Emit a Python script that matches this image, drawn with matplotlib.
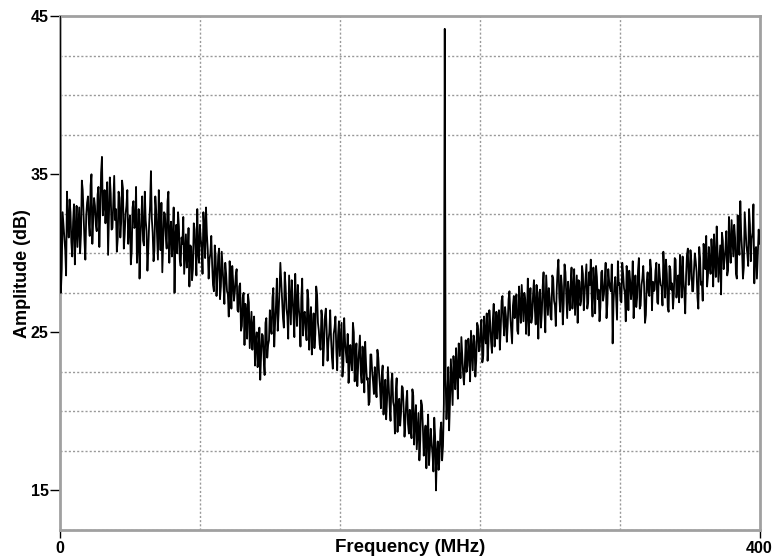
import numpy as np
import matplotlib.pyplot as plt

plt.rcParams['font.family'] = ['Liberation Sans', 'DejaVu Sans']

# Amplitude spectrum, one value per MHz, 0 .. 400 MHz
amp_db = [
    45.0, 29.0, 31.8, 30.2, 33.9, 31.0, 32.6, 29.8, 33.1, 31.5, 30.4, 32.9, 31.2, 34.0, 30.8, 32.4, 33.6, 31.1, 35.0, 32.2,
    33.0, 31.4, 34.2, 32.6, 36.1, 33.1, 31.9, 34.5, 32.3, 33.8, 31.6, 34.9, 32.8, 30.9, 33.5, 32.0, 34.1, 31.2, 33.0, 30.6,
    32.4, 30.1, 33.3, 31.7, 29.4, 32.8, 31.0, 33.6, 30.5, 32.1, 28.9, 31.9, 35.2, 31.3, 30.2, 32.7, 29.6, 31.8, 33.2, 30.7,
    32.5, 30.3, 33.9, 31.4, 29.8, 32.9, 31.1, 30.0, 31.7, 29.2, 30.6, 28.7, 31.2, 29.9, 27.9, 30.4, 29.0, 31.5, 28.6, 30.1,
    31.8, 30.4, 32.6, 29.7, 31.2, 28.4, 30.0, 29.3, 27.6, 29.8, 28.5, 30.3, 27.9, 29.1, 26.8, 28.7, 27.4, 29.5, 26.5, 28.2,
    27.6, 29.0, 26.3, 28.1, 25.4, 27.5, 26.8, 24.6, 26.9, 25.2, 23.9, 26.0, 24.4, 22.8, 25.3, 23.6, 24.8, 22.3, 25.9, 24.2,
    26.4, 24.9, 27.8, 25.6, 28.4, 26.2, 29.4, 27.1, 25.3, 27.9, 26.0, 28.6, 25.5, 27.3, 24.7, 26.8, 28.0, 25.9, 27.2, 24.8,
    26.3, 24.5, 27.1, 25.7, 23.6, 26.2, 24.9, 27.4, 25.1, 23.9, 25.8, 24.3, 26.5, 23.2, 25.0, 24.6, 22.7, 25.3, 23.9, 24.8,
    23.5, 25.6, 22.9, 24.4, 23.1, 21.8, 24.2, 22.6, 25.0, 23.4, 21.6, 23.9, 22.4, 24.1, 21.2, 23.0, 22.1, 20.6, 23.6, 21.9,
    22.8, 20.9, 23.4, 21.5, 22.3, 19.8, 22.0, 20.7, 21.6, 19.4, 22.4, 20.3, 21.2, 18.7, 20.8, 19.9, 21.5, 18.4, 20.6, 19.2,
    20.1, 18.3, 21.0, 19.5, 17.6, 19.9, 18.2, 20.4, 17.2, 19.1, 18.4, 16.6, 18.9, 17.3, 19.6, 15.0, 18.1, 17.0, 19.3, 17.8,
    44.2, 19.5, 22.8, 20.6, 21.9, 23.5, 21.4, 22.7, 24.3, 22.1, 23.6, 21.7, 24.5, 22.9, 23.8, 25.1, 22.6, 24.4, 23.2, 25.4,
    24.0, 25.8, 23.5, 24.9, 26.2, 24.3, 25.6, 23.7, 26.8, 25.0, 24.6, 26.4, 25.2, 27.3, 24.8, 26.0, 25.5, 27.6, 25.1, 26.7,
    25.9, 27.4, 24.9, 26.6, 28.0, 25.7, 27.1, 26.2, 24.8, 27.8, 26.0, 28.3, 25.5, 26.9, 27.5, 25.3, 27.9, 26.4, 28.6, 26.1,
    27.2, 25.8, 28.4, 26.7, 27.6, 29.6, 26.3, 27.9, 26.8, 28.8, 25.9, 27.4, 28.1, 26.5, 29.0, 27.3, 25.6, 28.2, 27.0, 28.7,
    27.5, 29.3, 26.9, 28.0, 27.3, 29.1, 26.2, 28.5, 27.7, 26.6, 28.9, 27.4, 29.4, 26.8, 28.2, 27.6, 24.3, 28.0, 27.1, 29.5,
    28.1, 26.9, 28.7, 27.5, 29.2, 26.4, 28.3, 27.8, 25.9, 28.6, 27.2, 29.7, 26.7, 28.4, 27.9, 26.1, 28.8, 27.3, 29.0, 28.2,
    27.7, 29.4, 26.8, 28.5, 27.9, 30.1, 27.2, 28.7, 26.3, 29.0, 28.1, 27.4, 29.6, 28.0, 26.9, 28.8, 29.8, 27.5, 28.6, 30.3,
    28.4, 29.5, 27.6, 30.0, 28.8, 26.5, 29.7, 28.2, 30.6, 29.0, 27.9, 30.4, 28.7, 29.9, 31.2, 28.5, 30.1, 29.3, 27.4, 30.8,
    29.6, 31.4, 28.9, 30.5, 32.1, 29.8, 31.0, 28.4, 30.7, 33.3, 30.2, 29.1, 31.6, 30.0, 32.8, 29.5, 31.3, 28.1, 30.4, 29.9,
    30.6,
]

# the same trace at the half-MHz points in between (0.5 .. 399.5 MHz)
amp_db_half = [
    27.5, 32.6, 30.9, 28.6, 32.1, 33.4, 30.7, 32.0, 29.3, 33.0, 31.7, 30.0, 34.6, 32.3, 29.6, 33.2, 31.9, 34.3, 30.6, 33.5,
    31.8, 33.7, 30.4, 35.1, 32.4, 34.0, 33.3, 29.9, 34.8, 31.5, 33.2, 32.1, 30.1, 33.9, 31.0, 34.6, 30.3, 32.5, 34.0, 31.7,
    29.3, 32.9, 31.6, 34.2, 30.6, 28.4, 32.2, 30.8, 33.9, 31.4, 30.3, 33.0, 32.2, 29.5, 33.6, 31.2, 34.0, 30.2, 28.8, 32.6,
    31.1, 33.3, 29.4, 32.0, 30.9, 27.5, 31.8, 32.6, 29.6, 31.0, 32.3, 30.0, 29.1, 31.6, 30.5, 28.3, 31.9, 30.2, 32.8, 29.4,
    30.9, 28.7, 31.5, 32.9, 30.2, 29.6, 31.1, 28.0, 30.5, 27.3, 29.9, 27.1, 30.1, 28.0, 29.4, 27.6, 26.0, 28.4, 29.2, 27.0,
    28.6, 26.4, 27.9, 25.1, 27.2, 24.2, 26.1, 27.4, 24.0, 26.3, 25.4, 22.9, 25.0, 23.7, 22.0, 24.9, 23.3, 25.6, 23.4, 24.5,
    25.3, 27.2, 24.1, 26.7, 25.1, 27.6, 28.2, 25.9, 28.8, 26.5, 24.6, 27.0, 28.3, 26.1, 28.7, 25.4, 26.6, 24.1, 28.4, 26.2,
    25.2, 27.7, 23.9, 26.6, 25.0, 24.0, 27.9, 25.6, 24.2, 26.4, 22.9, 26.0, 25.1, 24.4, 26.4, 23.4, 24.9, 26.0, 22.6, 25.7,
    24.5, 22.2, 25.9, 23.7, 24.9, 22.7, 23.3, 25.6, 21.9, 24.3, 22.9, 24.8, 21.8, 23.2, 24.4, 22.0, 20.4, 23.6, 22.5, 21.1,
    21.7, 23.9, 22.3, 20.2, 22.9, 21.1, 19.5, 22.8, 20.3, 21.9, 20.6, 18.6, 22.1, 20.5, 19.1, 21.6, 20.2, 19.4, 21.3, 18.6,
    19.0, 21.4, 17.9, 20.4, 18.7, 16.9, 20.7, 19.0, 18.3, 16.4, 19.8, 17.6, 18.0, 16.2, 18.4, 17.4, 16.3, 18.8, 16.9, 20.5,
    22.0, 20.9, 18.8, 23.3, 20.4, 22.3, 24.0, 20.8, 23.1, 24.7, 22.4, 23.0, 22.5, 24.6, 21.9, 23.9, 24.8, 22.2, 25.6, 23.8,
    25.2, 23.1, 26.0, 24.3, 23.2, 26.4, 24.4, 25.8, 24.1, 26.3, 25.9, 23.9, 27.0, 25.7, 26.6, 24.4, 27.1, 26.0, 24.3, 27.3,
    26.8, 25.1, 27.9, 25.6, 26.8, 27.5, 24.9, 28.4, 26.6, 25.6, 27.4, 26.5, 28.0, 24.6, 27.7, 26.2, 28.8, 25.0, 27.3, 27.8,
    26.0, 28.6, 27.0, 25.4, 28.9, 27.2, 28.6, 25.5, 29.3, 27.4, 28.2, 26.4, 29.1, 27.6, 26.1, 28.6, 28.3, 26.7, 29.2, 26.4,
    28.4, 26.5, 28.8, 29.6, 26.0, 28.0, 29.2, 27.1, 25.7, 28.8, 27.0, 28.3, 25.9, 29.0, 27.8, 29.3, 26.9, 28.5, 25.8, 28.0,
    27.0, 29.4, 27.8, 25.7, 28.4, 28.9, 27.1, 29.5, 27.4, 26.6, 28.9, 26.5, 28.0, 29.2, 25.6, 28.2, 27.5, 29.6, 26.4, 27.6,
    28.9, 26.9, 29.3, 28.0, 26.7, 28.9, 29.6, 26.6, 29.2, 27.7, 26.5, 29.7, 27.2, 28.6, 29.9, 27.2, 28.3, 26.2, 29.9, 28.0,
    30.2, 27.6, 28.9, 29.5, 27.2, 30.4, 28.0, 27.0, 29.9, 31.1, 28.6, 29.3, 30.9, 27.9, 29.6, 31.7, 28.2, 30.5, 31.3, 29.0,
    30.3, 28.6, 32.3, 29.4, 30.9, 31.8, 28.7, 32.4, 29.9, 31.2, 28.4, 32.6, 30.5, 29.2, 31.8, 30.9, 33.1, 30.2, 28.4, 31.5,
]

# merge both into one trace on a 0.5 MHz grid
trace = []
for a, b in zip(amp_db[:-1], amp_db_half):
    trace += [a, b]
trace.append(amp_db[-1])
freq_mhz = np.linspace(0, 400, len(trace))

y_ticks = [15, 25, 35, 45]
x_ticks = [0, 400]

fig = plt.figure(figsize=(7.73, 5.59), dpi=100)
ax = fig.add_axes([0.0776, 0.052, 0.905, 0.919])

ax.plot(freq_mhz, trace, color='black', linewidth=1.3, zorder=3)

ax.set_xlim(0, 400)
ax.set_ylim(12.5, 45)

# dotted grid every 80 MHz / 2.5 dB
ax.set_xticks(np.arange(0, 401, 80), minor=True)
ax.set_yticks(np.arange(12.5, 45.1, 2.5), minor=True)
ax.grid(True, which='minor', linestyle=(0, (1.5, 1.5)), color='#999999', linewidth=1.0)
ax.tick_params(which='minor', length=0)

ax.set_yticks(y_ticks)
ax.set_xticks(x_ticks)
ax.set_yticklabels([str(v) for v in y_ticks], fontweight='bold', fontsize=11.5)
ax.set_xticklabels([str(v) for v in x_ticks], fontweight='bold', fontsize=11.5)
ax.tick_params(axis='y', direction='out', length=7, width=1.0, pad=1)
ax.tick_params(axis='x', direction='out', length=6, width=1.0, pad=2)

for side in ['top', 'right', 'bottom', 'left']:
    ax.spines[side].set_color('#a0a0a0')
    ax.spines[side].set_linewidth(2.0)

ax.set_xlabel('Frequency (MHz)', fontweight='bold', fontsize=13.5, labelpad=-12)
ax.set_ylabel('Amplitude (dB)', fontweight='bold', fontsize=13, labelpad=0)

plt.savefig('out.png', dpi=100)
